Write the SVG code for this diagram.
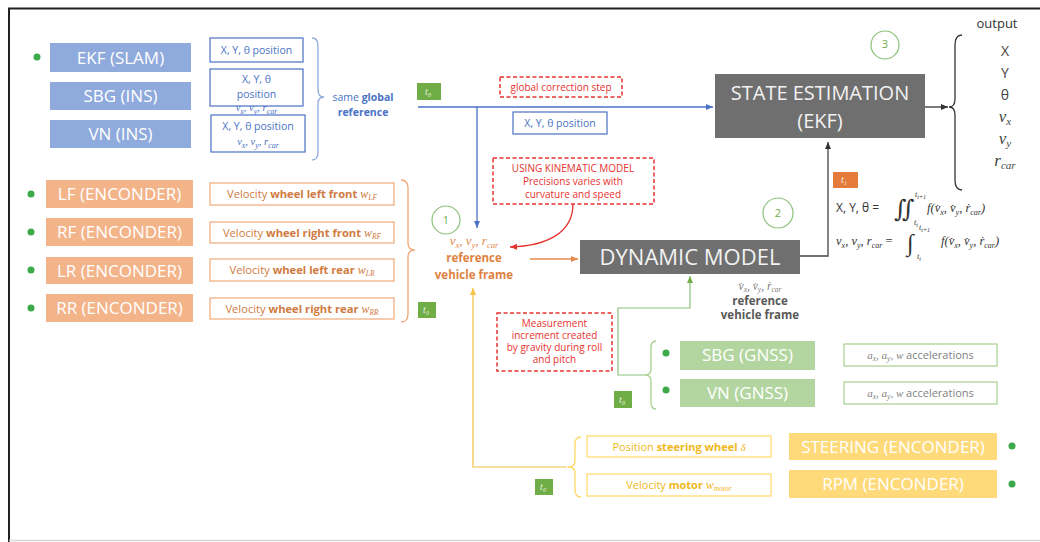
<svg xmlns="http://www.w3.org/2000/svg" width="1040" height="542" viewBox="0 0 1040 542">
<style>
.sans{font-family:"Open Sans","Liberation Sans",sans-serif}
.math{font-family:"Liberation Serif","DejaVu Serif",serif;font-style:italic}
.big{font-size:17px;fill:#fff;text-anchor:middle}
.blueB{fill:#8FAADC}
.oraB{fill:#F4B48A}
.grnB{fill:#B3D6A0}
.yelB{fill:#FFDA7A}
.gryB{fill:#6F6F6F}
.tb{fill:#fff;stroke-width:1.2}
.bT{fill:#4A72C4;font-size:10.5px;text-anchor:middle}
.oT{fill:#D07A40;font-size:11.2px;text-anchor:middle}
.yT{fill:#F0B820;font-size:11px;text-anchor:middle}
.gT{fill:#7F7F7F;font-size:11px;text-anchor:middle}
.rT{fill:#E8322E;font-size:10px;text-anchor:middle}
.red{fill:none;stroke:#E8322E;stroke-width:1.5;stroke-dasharray:4 2.5}
.dot{fill:#3DAA4A}
.tag{fill:#70AD47}
.tagT{fill:#E8F2E0;font-size:10px;text-anchor:middle}
.circ{fill:none;stroke:#8CC17A;stroke-width:1.2}
.circT{fill:#70AD47;font-size:11px;text-anchor:middle}
.brace{fill:none;stroke-width:1.3}
</style>
<defs>
<marker id="aBlue" markerWidth="8" markerHeight="8" refX="7" refY="4" orient="auto" markerUnits="userSpaceOnUse"><path d="M0,1 L7,4 L0,7 z" fill="#4A72C4"/></marker>
<marker id="aRed" markerWidth="8" markerHeight="8" refX="7" refY="4" orient="auto" markerUnits="userSpaceOnUse"><path d="M0,1 L7,4 L0,7 z" fill="#E8322E"/></marker>
<marker id="aOra" markerWidth="8" markerHeight="8" refX="7" refY="4" orient="auto" markerUnits="userSpaceOnUse"><path d="M0,1 L7,4 L0,7 z" fill="#E58A4E"/></marker>
<marker id="aYel" markerWidth="8" markerHeight="8" refX="7" refY="4" orient="auto" markerUnits="userSpaceOnUse"><path d="M0,1 L7,4 L0,7 z" fill="#F5C242"/></marker>
<marker id="aGrn" markerWidth="8" markerHeight="8" refX="7" refY="4" orient="auto" markerUnits="userSpaceOnUse"><path d="M0,1 L7,4 L0,7 z" fill="#70AD47"/></marker>
<marker id="aBlk" markerWidth="8" markerHeight="8" refX="7" refY="4" orient="auto" markerUnits="userSpaceOnUse"><path d="M0,1 L7,4 L0,7 z" fill="#333"/></marker>
</defs>
<rect width="1040" height="542" fill="#fff"/>
<path d="M9,542 L9,8.5 L1040,8.5" fill="none" stroke="#222" stroke-width="2"/>
<line x1="9" y1="540.5" x2="1040" y2="540.5" stroke="#d8d8d8" stroke-width="1.5"/>

<g id="connectors">
<line x1="418" y1="107" x2="713" y2="107" stroke="#4A72C4" stroke-width="1.3" marker-end="url(#aBlue)"/>
<line x1="477" y1="107" x2="477" y2="228" stroke="#4A72C4" stroke-width="1.3" marker-end="url(#aBlue)"/>
<path d="M573,204 C573,234 545,246 510,247" fill="none" stroke="#E8322E" stroke-width="1.3" marker-end="url(#aRed)"/>
<line x1="530" y1="259" x2="578" y2="259" stroke="#E58A4E" stroke-width="1.3" marker-end="url(#aOra)"/>
<path d="M800,256 L828,256 L828,142" fill="none" stroke="#444" stroke-width="1.3" marker-end="url(#aBlk)"/>
<line x1="925" y1="107" x2="948" y2="107" stroke="#333" stroke-width="1.3" marker-end="url(#aBlk)"/>
<path d="M645,375 L618,375 L618,308 L690,308 L690,276" fill="none" stroke="#8CC17A" stroke-width="1.2" marker-end="url(#aGrn)"/>
<path d="M567,467 L473,467 L473,288" fill="none" stroke="#F5C242" stroke-width="1.2" marker-end="url(#aYel)"/>
<path class="brace" stroke="#8FAADC" d="M312,38 Q318,38 318,46 L318,90 Q318,97 324,97 Q318,97 318,104 L318,152 Q318,160 312,160"/>
<path class="brace" stroke="#F0A878" d="M401,180 Q408,180 408,188 L408,243 Q408,250 415,250 Q408,250 408,257 L408,314 Q408,322 401,322"/>
<path class="brace" stroke="#333" d="M962,35 Q955,35 955,45 L955,99 Q955,107 949,107 Q955,107 955,115 L955,180 Q955,190 962,190"/>
<path class="brace" stroke="#A9D18E" d="M656,341 Q651,341 651,348 L651,369 Q651,375 645,375 Q651,375 651,381 L651,402 Q651,409 656,409"/>
<path class="brace" stroke="#FFD966" d="M581,437 Q575,437 575,444 L575,461 Q575,467 568,467 Q575,467 575,473 L575,490 Q575,497 581,497"/>
</g>

<g id="ekf-slam"><circle class="dot" cx="37" cy="57" r="3.5"/><rect class="blueB" x="50" y="43" width="141" height="29"/><text class="sans big" x="120.5" y="63.5">EKF (SLAM)</text></g>
<g id="sbg-ins"><rect class="blueB" x="50" y="82" width="141" height="28"/><text class="sans big" x="120.5" y="102">SBG (INS)</text></g>
<g id="vn-ins"><rect class="blueB" x="50" y="120" width="141" height="28"/><text class="sans big" x="120.5" y="140">VN (INS)</text></g>
<g id="lbl-ekf"><rect class="tb" stroke="#4A72C4" x="210" y="38" width="93" height="24"/><text class="sans bT" x="256.5" y="54">X, Y, θ position</text></g>
<g id="lbl-sbg"><rect class="tb" stroke="#4A72C4" x="210" y="69" width="93" height="37"/><text class="sans bT" x="256.5" y="83">X, Y, θ</text><text class="sans bT" x="256.5" y="98">position</text><text class="math bT" font-size="11.5" x="256.5" y="111">v<tspan dy="2.5" font-size="8">x</tspan><tspan dy="-2.5">, v</tspan><tspan dy="2.5" font-size="8">y</tspan><tspan dy="-2.5">, r</tspan><tspan dy="2.5" font-size="8">car</tspan></text></g>
<g id="lbl-vn"><rect class="tb" stroke="#4A72C4" x="211" y="115" width="94" height="37"/><text class="sans bT" x="258" y="130">X, Y, θ position</text><text class="math bT" font-size="11.5" x="258" y="145">v<tspan dy="2.5" font-size="8">x</tspan><tspan dy="-2.5">, v</tspan><tspan dy="2.5" font-size="8">y</tspan><tspan dy="-2.5">, r</tspan><tspan dy="2.5" font-size="8">car</tspan></text></g>
<g id="same-global"><text class="sans bT" font-size="11" x="363" y="101">same <tspan font-weight="bold">global</tspan></text><text class="sans bT" font-size="11" font-weight="bold" x="363" y="116">reference</text></g>

<g id="lf"><circle class="dot" cx="31" cy="194" r="3.5"/><rect class="oraB" x="46" y="180" width="147" height="28"/><text class="sans big" x="119.5" y="200">LF (ENCONDER)</text></g>
<g id="rf"><circle class="dot" cx="31" cy="232" r="3.5"/><rect class="oraB" x="46" y="218" width="147" height="28"/><text class="sans big" x="119.5" y="238">RF (ENCONDER)</text></g>
<g id="lr"><circle class="dot" cx="31" cy="270" r="3.5"/><rect class="oraB" x="46" y="257" width="147" height="27"/><text class="sans big" x="119.5" y="276.5">LR (ENCONDER)</text></g>
<g id="rr"><circle class="dot" cx="31" cy="308" r="3.5"/><rect class="oraB" x="46" y="294" width="147" height="28"/><text class="sans big" x="119.5" y="314">RR (ENCONDER)</text></g>
<g id="lbl-lf"><rect class="tb" stroke="#F0A878" x="210" y="183" width="184" height="22"/><text class="sans oT" x="302" y="198">Velocity <tspan font-weight="bold">wheel left front </tspan><tspan class="math" font-size="12">w</tspan><tspan class="math" dy="2" font-size="7.5">LF</tspan></text></g>
<g id="lbl-rf"><rect class="tb" stroke="#F0A878" x="210" y="222" width="184" height="21"/><text class="sans oT" x="302" y="236.5">Velocity <tspan font-weight="bold">wheel right front </tspan><tspan class="math" font-size="12">w</tspan><tspan class="math" dy="2" font-size="7.5">RF</tspan></text></g>
<g id="lbl-lr"><rect class="tb" stroke="#F0A878" x="210" y="259" width="184" height="22"/><text class="sans oT" x="302" y="274">Velocity <tspan font-weight="bold">wheel left rear </tspan><tspan class="math" font-size="12">w</tspan><tspan class="math" dy="2" font-size="7.5">LR</tspan></text></g>
<g id="lbl-rr"><rect class="tb" stroke="#F0A878" x="210" y="298" width="184" height="21"/><text class="sans oT" x="302" y="312.5">Velocity <tspan font-weight="bold">wheel right rear </tspan><tspan class="math" font-size="12">w</tspan><tspan class="math" dy="2" font-size="7.5">RR</tspan></text></g>

<g id="t0-a"><rect class="tag" x="417" y="83" width="24" height="17"/><text class="math tagT" x="428" y="95">t<tspan dy="2" font-size="6">0</tspan></text></g>
<g id="t0-b"><rect class="tag" x="418" y="302" width="18" height="16"/><text class="math tagT" x="426" y="313">t<tspan dy="2" font-size="6">0</tspan></text></g>
<g id="t0-c"><rect class="tag" x="614" y="391" width="18" height="17"/><text class="math tagT" x="622" y="403">t<tspan dy="2" font-size="6">0</tspan></text></g>
<g id="t0-d"><rect class="tag" x="535" y="479" width="18" height="16"/><text class="math tagT" x="543" y="490">t<tspan dy="2" font-size="6">0</tspan></text></g>
<g id="t1"><rect fill="#E57B3A" x="833" y="172" width="25" height="16"/><text class="math tagT" fill="#FBE3D2" x="844" y="183">t<tspan dy="2" font-size="6">1</tspan></text></g>

<g id="note-global"><rect class="red" x="500" y="77" width="122" height="20"/><text class="sans rT" x="561" y="91">global correction step</text></g>
<g id="lbl-xy"><rect class="tb" stroke="#4A72C4" x="513" y="112" width="94" height="22"/><text class="sans bT" x="560" y="127">X, Y, θ position</text></g>
<g id="note-kin"><rect class="red" x="493" y="158" width="161" height="46"/><text class="sans rT" x="573" y="172">USING KINEMATIC MODEL</text><text class="sans rT" x="573" y="185">Precisions varies with</text><text class="sans rT" x="573" y="198">curvature and speed</text></g>
<g id="note-meas"><rect class="red" x="497" y="313" width="115" height="58"/><text class="sans rT" x="554.5" y="327">Measurement</text><text class="sans rT" x="554.5" y="339">increment created</text><text class="sans rT" x="554.5" y="351">by gravity during roll</text><text class="sans rT" x="554.5" y="363">and pitch</text></g>

<g id="step1"><circle class="circ" cx="446" cy="220" r="14"/><text class="sans circT" x="446" y="224">1</text></g>
<g id="step2"><circle class="circ" cx="778" cy="213" r="15"/><text class="sans circT" x="778" y="217">2</text></g>
<g id="step3"><circle class="circ" cx="885" cy="45" r="14"/><text class="sans circT" font-size="9" x="885" y="48">3</text></g>

<g id="veh-frame"><text class="math" fill="#E58A4E" font-size="13" text-anchor="middle" x="474" y="245">v<tspan dy="2.5" font-size="8.5">x</tspan><tspan dy="-2.5">, v</tspan><tspan dy="2.5" font-size="8.5">y</tspan><tspan dy="-2.5">, r</tspan><tspan dy="2.5" font-size="8.5">car</tspan></text><text class="sans" fill="#E0823F" font-size="11.5" font-weight="bold" text-anchor="middle" x="474" y="262">reference</text><text class="sans" fill="#E0823F" font-size="11.5" font-weight="bold" text-anchor="middle" x="474" y="279">vehicle frame</text></g>

<g id="dynamic-model"><rect class="gryB" x="580" y="240" width="220" height="34"/><text class="sans" fill="#F2F2F2" font-size="22" text-anchor="middle" x="690" y="265">DYNAMIC MODEL</text></g>
<g id="dyn-frame"><text class="math" fill="#7F7F7F" font-size="11.5" text-anchor="middle" x="760" y="290">v̇<tspan dy="2" font-size="7.5">x</tspan><tspan dy="-2">, v̇</tspan><tspan dy="2" font-size="7.5">y</tspan><tspan dy="-2">, ṙ</tspan><tspan dy="2" font-size="7.5">car</tspan></text><text class="sans" fill="#595959" font-size="11.5" font-weight="bold" text-anchor="middle" x="760" y="305">reference</text><text class="sans" fill="#595959" font-size="11.5" font-weight="bold" text-anchor="middle" x="760" y="319">vehicle frame</text></g>

<g id="state-estimation"><rect class="gryB" x="715" y="74" width="210" height="64"/><text class="sans" fill="#F2F2F2" font-size="20" text-anchor="middle" x="820" y="100">STATE ESTIMATION</text><text class="sans" fill="#F2F2F2" font-size="20" text-anchor="middle" x="820" y="128">(EKF)</text></g>

<g id="output"><text class="sans" fill="#333" font-size="13" text-anchor="middle" x="997" y="28">output</text>
<text class="sans" fill="#444" font-size="14" text-anchor="middle" x="1005" y="56">X</text>
<text class="sans" fill="#444" font-size="14" text-anchor="middle" x="1005" y="78">Y</text>
<text class="sans" fill="#444" font-size="14" text-anchor="middle" x="1005" y="100">θ</text>
<text class="math" fill="#444" font-size="17" text-anchor="middle" x="1005" y="122">v<tspan dy="3" font-size="11">x</tspan></text>
<text class="math" fill="#444" font-size="17" text-anchor="middle" x="1005" y="144">v<tspan dy="3" font-size="11">y</tspan></text>
<text class="math" fill="#444" font-size="17" text-anchor="middle" x="1005" y="166">r<tspan dy="3" font-size="11">car</tspan></text></g>

<g id="formulas" fill="#333">
<text class="sans" font-size="12" x="836" y="212">X, Y, θ =</text>
<text class="math" font-size="24" font-style="normal" x="894" y="217">∬</text>
<text class="math" font-size="8" x="915" y="197">t<tspan dy="2" font-size="6">t+1</tspan></text>
<text class="math" font-size="8" x="914" y="225">t<tspan dy="2" font-size="6">t</tspan></text>
<text class="math" font-size="12.5" x="927" y="212">f(v̇<tspan dy="2.5" font-size="8">x</tspan><tspan dy="-2.5">, v̇</tspan><tspan dy="2.5" font-size="8">y</tspan><tspan dy="-2.5">, ṙ</tspan><tspan dy="2.5" font-size="8">car</tspan><tspan dy="-2.5">)</tspan></text>
<text class="math" font-size="12.5" x="836" y="245">v<tspan dy="2.5" font-size="8">x</tspan><tspan dy="-2.5">, v</tspan><tspan dy="2.5" font-size="8">y</tspan><tspan dy="-2.5">, r</tspan><tspan dy="2.5" font-size="8">car</tspan><tspan dy="-2.5" font-style="normal"> =</tspan></text>
<text class="math" font-size="24" font-style="normal" x="907" y="251">∫</text>
<text class="math" font-size="8" x="919" y="230">t<tspan dy="2" font-size="6">t+1</tspan></text>
<text class="math" font-size="8" x="917" y="259">t<tspan dy="2" font-size="6">t</tspan></text>
<text class="math" font-size="12.5" x="941" y="245">f(v̇<tspan dy="2.5" font-size="8">x</tspan><tspan dy="-2.5">, v̇</tspan><tspan dy="2.5" font-size="8">y</tspan><tspan dy="-2.5">, ṙ</tspan><tspan dy="2.5" font-size="8">car</tspan><tspan dy="-2.5">)</tspan></text>
</g>

<g id="sbg-gnss"><circle class="dot" cx="666" cy="353" r="3.5"/><rect class="grnB" x="680" y="341" width="135" height="29"/><text class="sans big" x="747.5" y="361">SBG (GNSS)</text></g>
<g id="vn-gnss"><circle class="dot" cx="666" cy="390" r="3.5"/><rect class="grnB" x="680" y="379" width="135" height="28"/><text class="sans big" x="747.5" y="399">VN (GNSS)</text></g>
<g id="lbl-sbg-acc"><rect class="tb" stroke="#A9D18E" x="844" y="344" width="153" height="22"/><text class="gT" x="920.5" y="359"><tspan class="math">a</tspan><tspan class="math" dy="2" font-size="7.5">x</tspan><tspan class="math" dy="-2">, a</tspan><tspan class="math" dy="2" font-size="7.5">y</tspan><tspan class="math" dy="-2">, w</tspan><tspan class="sans"> accelerations</tspan></text></g>
<g id="lbl-vn-acc"><rect class="tb" stroke="#A9D18E" x="844" y="382" width="153" height="22"/><text class="gT" x="920.5" y="397"><tspan class="math">a</tspan><tspan class="math" dy="2" font-size="7.5">x</tspan><tspan class="math" dy="-2">, a</tspan><tspan class="math" dy="2" font-size="7.5">y</tspan><tspan class="math" dy="-2">, w</tspan><tspan class="sans"> accelerations</tspan></text></g>

<g id="lbl-steer"><rect class="tb" stroke="#FFD966" x="587" y="436" width="184" height="21"/><text class="sans yT" x="679" y="450.5">Position <tspan font-weight="bold">steering wheel </tspan><tspan class="math">δ</tspan></text></g>
<g id="lbl-motor"><rect class="tb" stroke="#FFD966" x="587" y="474" width="184" height="22"/><text class="sans yT" x="679" y="489">Velocity <tspan font-weight="bold">motor </tspan><tspan class="math" font-size="12">w</tspan><tspan class="math" dy="2" font-size="7.5">motor</tspan></text></g>
<g id="steering"><rect class="yelB" x="789" y="433" width="208" height="27"/><text class="sans big" x="893" y="452.5">STEERING (ENCONDER)</text><circle class="dot" cx="1012" cy="446" r="3.5"/></g>
<g id="rpm"><rect class="yelB" x="789" y="470" width="208" height="28"/><text class="sans big" x="893" y="490">RPM (ENCONDER)</text><circle class="dot" cx="1012" cy="484" r="3.5"/></g>
</svg>
